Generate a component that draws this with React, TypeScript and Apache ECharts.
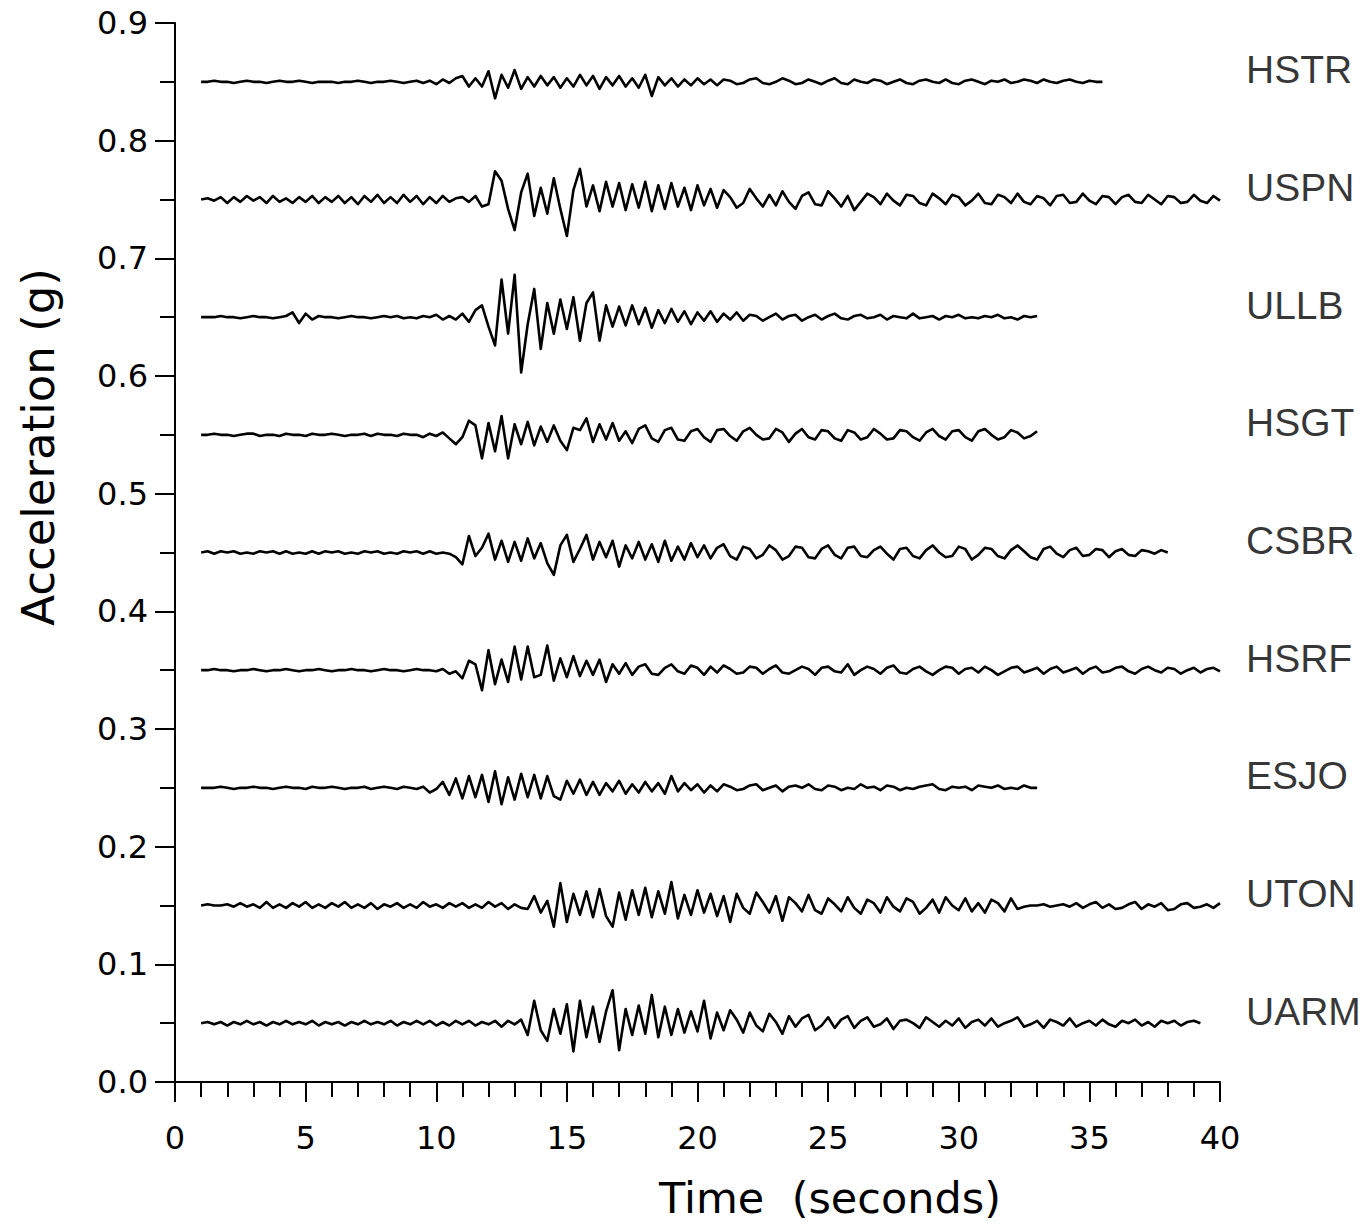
import React, { useEffect, useRef } from "react";
import * as echarts from "echarts";

// Station names, top to bottom, and the baseline (g) each trace is drawn on
const STATIONS = ["HSTR", "USPN", "ULLB", "HSGT", "CSBR", "HSRF", "ESJO", "UTON", "UARM"];
const BASELINES = [0.85, 0.75, 0.65, 0.55, 0.45, 0.35, 0.25, 0.15, 0.05];

// Every trace starts at t = 1 s and is sampled every 0.25 s
const T_START = 1;
const T_STEP = 0.25;

// Tick labels
const X_TICKS = [0, 5, 10, 15, 20, 25, 30, 35, 40];
const Y_TICKS = [0.0, 0.1, 0.2, 0.3, 0.4, 0.5, 0.6, 0.7, 0.8, 0.9];

// Trace deviations from their baseline, in 0.001 g
const HSTR = [
  0, 0, 1, 0, 0, -1, 0, 1, 0, 0, -1, 0, 1, 0, 0, 1, 0, -1, 0, 0,
  0, -1, 0, 0, 1, 0, -1, 0, 0, 1, 0, -1, 0, 1, -1, 1, -2, 2, -1, 3,
  5, -4, 3, -4, 9, -14, 6, -5, 10, -6, 4, -4, 5, -3, 4, -5, 3, -4, 6, -3,
  5, -6, 4, -3, 5, -4, 3, -5, 6, -12, 4, -3, 3, -4, 2, -3, 3, -2, 2, -3,
  2, 1, -2, -1, 2, 3, -1, -2, 0, 3, 1, -2, -1, 2, 0, -2, 1, 3, -1, -2,
  2, 0, -1, 2, 1, -2, 0, 2, -1, -2, 1, 2, 0, -1, 2, -1, -2, 1, 2, 0,
  -2, 1, 0, 2, -1, 0, 2, 1, -1, 2, 0, -1, 1, 2, 0, -1, 1, 0, 0,
];
const USPN = [
  0, 1, -1, 2, -3, 2, -2, 3, -1, 2, -3, 3, -2, 1, -3, 2, -2, 3, -3, 2,
  -2, 3, -3, 2, -4, 3, -2, 4, -3, 2, -3, 4, -2, 3, -4, 2, -3, 3, -2, 1,
  2, -2, 3, -6, -4, 24, 16, -8, -26, 6, 22, -14, 10, -12, 18, -8, -31, 8, 26, -6,
  12, -10, 15, -6, 14, -9, 13, -7, 15, -10, 12, -8, 14, -6, 10, -9, 12, -5, 9, -7,
  8, 2, -7, -3, 9, 1, -6, 4, -5, 7, -2, -8, 3, 6, -4, -5, 7, 1, -6, 3,
  -9, -2, 5, 2, -4, 5, -1, -5, 4, 3, -3, -5, 5, 1, -4, 4, 2, -5, -1, 5,
  -3, -4, 4, 2, -3, 5, -2, -4, 3, 1, -5, 3, 4, -3, -2, 5, -1, -4, 3, 2,
  -4, 2, 4, -2, -3, 4, 0, -4, 3, 2, -3, -2, 4, -1, -3, 3, -1,
];
const ULLB = [
  0, 0, 0, 1, 0, 0, -1, 0, 1, 0, 0, -1, 0, 1, 4, -5, 3, -2, 1, 0,
  0, -1, 0, 1, 0, 0, -1, 0, 1, 0, 1, -1, 0, -1, 1, 0, 2, -2, 1, -2,
  3, -4, 6, 10, -8, -24, 32, -14, 36, -47, -6, 24, -27, 12, -14, 15, -10, 17, -20, 12,
  21, -20, 10, -8, 9, -7, 10, -6, 8, -9, 6, -5, 7, -4, 5, -6, 4, -3, 5, -4,
  3, -2, 4, -3, 2, 1, -3, 0, 3, -2, 1, 2, -3, 0, 2, -2, 1, 3, -1, -2,
  1, 2, -1, 0, 2, -2, 1, 0, -1, 3, -1, 0, 1, -2, 1, 0, 2, -1, 0, -1,
  1, 0, 2, -1, 0, -2, 1, 0, 1,
];
const HSGT = [
  0, 0, 1, 0, 0, -1, 0, 1, 1, -1, 0, 0, -1, 1, 0, 0, -1, 1, 0, 0,
  1, 0, -1, 0, 0, 1, -1, 1, 0, 0, -1, 1, 0, 0, -2, 1, -1, 2, -3, -8,
  -2, 12, 8, -20, 10, -14, 16, -20, 9, -8, 11, -9, 7, -6, 8, -5, -13, 6, 4, 14,
  -6, 9, -4, 10, -5, 3, -7, 5, 8, -3, -6, 4, 6, -4, -5, 3, 5, -2, -6, 4,
  5, -1, -5, 3, 6, 0, -4, -3, 5, 2, -6, 1, 5, -2, -4, 4, 3, -3, -5, 4,
  2, -4, -2, 5, 1, -4, -3, 4, 3, -2, -5, 2, 5, -1, -4, 3, 4, -2, -5, 3,
  5, 0, -4, -2, 4, 2, -3, -1, 3,
];
const CSBR = [
  0, 1, -1, 1, 0, 1, -1, 0, -1, 1, 0, 1, -1, 1, -1, 0, -1, 1, -1, 1,
  0, 1, -1, 0, -1, 1, 0, 1, -1, 0, -1, 1, 0, 1, -1, 1, -1, 0, -1, -4,
  -10, 14, -3, 4, 16, -6, 10, -8, 9, -7, 12, -5, 8, -9, -19, 6, 15, -8, 3, 15,
  -6, 9, -4, 10, -12, 6, -5, 9, -6, 7, -8, 10, -7, 5, -6, 8, -4, 6, -5, 4,
  7, -3, -6, 5, 3, -5, -2, 6, 2, -6, -3, 5, 4, -4, -5, 3, 6, -2, -5, 4,
  5, -3, -4, 2, 5, -1, -6, 3, 4, -3, -5, 2, 6, 0, -4, -3, 5, 3, -6, -2,
  4, 3, -3, -5, 2, 6, 1, -4, -6, 3, 5, -1, -4, 2, 4, -3, -2, 3, 2, -4,
  1, 3, -2, -3, 2, 1, -1, 2, 0,
];
const HSRF = [
  0, 0, 1, 0, 0, -1, 0, 0, 1, 0, -1, 0, 0, 1, 0, -1, 0, 0, 1, 0,
  -1, 0, 0, 1, 0, 0, -1, 0, 1, 0, 0, -1, 0, 1, 0, 0, -1, 1, -3, -1,
  -7, 8, 5, -17, 17, -12, 9, -10, 20, -8, 20, -6, -4, 21, -9, 10, -6, 12, -5, 8,
  -4, 9, -10, 5, -3, 6, -4, 3, 5, -3, -4, 2, 5, -1, -3, 4, 2, -4, 3, -2,
  4, 1, -3, -2, 3, 2, -3, 1, 4, -2, -3, 0, 3, 1, -4, 2, 3, -1, -2, 5,
  -4, 0, 3, 1, -3, 2, 4, -2, -3, 1, 3, -1, -4, 0, 3, 2, -3, 1, 2, -2,
  3, 0, -4, -1, 2, 3, -2, 0, 2, -3, 1, 3, -2, 0, 2, -3, 1, 3, -2, -1,
  2, 3, -1, -3, 1, 3, 0, -2, 2, 1, -3, 0, 2, -2, 1, 2, -1,
];
const ESJO = [
  0, 0, 0, 1, 0, -1, 0, 0, 1, 0, 0, -1, 0, 1, 0, 0, -1, 1, 0, 0,
  1, 0, -1, 0, 0, 1, -1, 0, 1, 0, -1, 1, 0, -1, 1, -4, -1, 5, -6, 8,
  -9, 10, -8, 11, -12, 14, -14, 9, -10, 12, -8, 11, -9, 10, -7, -10, 6, -5, 7, -6,
  5, -6, 4, -3, 6, -5, 3, -4, 5, -3, 4, -5, 10, -3, 4, -2, 3, -4, 2, -3,
  3, 1, -2, -1, 2, 3, -2, 0, 2, -3, 1, 2, 0, 3, -1, -2, 2, 1, -2, 0,
  -1, 3, 0, 1, -2, 2, 1, -2, 0, -1, 1, 2, 3, -1, -2, 1, 0, 1, -2, 2,
  1, 0, 2, -1, 0, -1, 2, 0, 0,
];
const UTON = [
  0, 1, 0, 0, 1, -1, 2, -1, 1, -2, 3, -2, 1, -2, 2, -1, 3, -2, 1, -2,
  2, -1, 3, -2, 1, -2, 2, -3, 1, -1, 2, -2, 1, -2, 3, -1, 1, -2, 2, -1,
  2, -2, 1, -2, 3, -1, 2, -3, 1, -2, -3, 8, -6, 4, -18, 19, -14, 10, -8, 12,
  -10, 14, -9, -18, 11, -12, 13, -8, 15, -10, 12, -7, 20, -11, 9, -8, 13, -6, 10, -9,
  8, -14, 10, -2, -7, 11, 3, -6, 8, -13, 7, 2, -5, 9, -4, -7, 6, 1, -5, 7,
  -2, -7, 5, 2, -6, 7, -1, -5, 6, 3, -7, -2, 5, -6, 7, 0, -4, 6, -5, 2,
  -6, 5, 2, -5, 6, -3, -1, 0, 0, 1, -1, 0, 1, -1, 2, -2, 1, 3, -2, 1,
  -3, -2, 1, 3, -3, 1, -1, 2, -4, -3, 1, 2, -2, -1, 1, -2, 2,
];
const UARM = [
  0, 1, -1, 1, -2, 1, -1, 2, -1, 1, -2, 1, -1, 2, -1, 1, -1, 2, -2, 1,
  -1, 1, -2, 1, -1, 2, -1, 1, -1, 2, -2, 1, -1, 2, -1, 2, -2, 1, -2, 2,
  -1, 2, -2, 1, -1, 2, -3, 2, -1, 3, -10, 19, -6, -15, 12, -9, 16, -24, 19, -12,
  14, -16, 10, 28, -23, 12, -10, 15, -9, 24, -12, 14, -10, 12, -8, 10, -7, 19, -13, 9,
  -6, 11, 3, -8, 9, -2, -7, 8, 1, -9, 6, -3, 4, 7, -6, -2, 5, -4, 3, 6,
  -4, 2, 5, -3, -1, 4, -5, 2, 3, 0, -4, 5, 1, -3, 2, -2, 4, -4, 1, 3,
  -2, 4, -3, 0, 2, 5, -3, -1, 2, -4, 3, 1, -2, 4, -3, 0, 2, -2, 3, -1,
  -3, 2, 0, 3, -2, 1, -3, 2, 0, 2, -2, 1, 2, 0,
];

const TRACES = [HSTR, USPN, ULLB, HSGT, CSBR, HSRF, ESJO, UTON, UARM];

const TICK_FONT = "'DejaVu Sans', sans-serif";

export default function App() {
  const ref = useRef<HTMLDivElement>(null);

  useEffect(() => {
    document.body.style.margin = "0";
    if (!ref.current) return;
    const chart = echarts.init(ref.current, undefined, { renderer: "svg" });

    const lineSeries = TRACES.map((vals, k) => ({
      type: "line",
      name: STATIONS[k],
      showSymbol: false,
      silent: true,
      clip: false,
      lineStyle: { color: "#000", width: 2.6, join: "round" },
      data: vals.map((v, i) => [T_START + i * T_STEP, BASELINES[k] + v / 1000]),
    }));

    const labelSeries = {
      type: "scatter",
      symbolSize: 0,
      silent: true,
      clip: false,
      data: STATIONS.map((s, k) => ({ name: s, value: [X_TICKS[X_TICKS.length - 1], BASELINES[k]] })),
      label: {
        show: true,
        formatter: "{b}",
        position: "right",
        distance: 26,
        offset: [0, -12],
        fontSize: 39,
        fontFamily: "'Liberation Sans', Arial, sans-serif",
        color: "#000",
      },
    };

    chart.setOption({
      animation: false,
      backgroundColor: "#fff",
      grid: { left: 175, right: 149, top: 23, bottom: 144 },
      xAxis: {
        type: "value",
        min: X_TICKS[0],
        max: X_TICKS[X_TICKS.length - 1],
        interval: 5,
        axisLine: { show: true, onZero: false, lineStyle: { color: "#000", width: 2 } },
        axisTick: { show: true, length: 20, lineStyle: { color: "#000", width: 2 } },
        minorTick: { show: true, splitNumber: 5, length: 15, lineStyle: { color: "#000", width: 2 } },
        splitLine: { show: false },
        minorSplitLine: { show: false },
        axisLabel: { fontSize: 32, fontFamily: TICK_FONT, color: "#000", margin: 40 },
      },
      yAxis: {
        type: "value",
        min: Y_TICKS[0],
        max: Y_TICKS[Y_TICKS.length - 1],
        interval: 0.1,
        axisLine: { show: true, onZero: false, lineStyle: { color: "#000", width: 2 } },
        axisTick: { show: true, length: 20, lineStyle: { color: "#000", width: 2 } },
        minorTick: { show: true, splitNumber: 2, length: 15, lineStyle: { color: "#000", width: 2 } },
        splitLine: { show: false },
        minorSplitLine: { show: false },
        axisLabel: {
          fontSize: 32,
          fontFamily: TICK_FONT,
          color: "#000",
          margin: 27,
          formatter: (v: number) => v.toFixed(1),
        },
      },
      graphic: [
        {
          type: "text",
          x: 830,
          y: 1198,
          style: {
            text: "Time  (seconds)",
            fontSize: 43,
            fontFamily: TICK_FONT,
            fill: "#000",
            textAlign: "center",
            textVerticalAlign: "middle",
          },
        },
        {
          type: "text",
          x: 38,
          y: 447,
          rotation: Math.PI / 2,
          style: {
            text: "Acceleration (g)",
            fontSize: 45,
            fontFamily: TICK_FONT,
            fill: "#000",
            textAlign: "center",
            textVerticalAlign: "middle",
          },
        },
      ],
      series: [...lineSeries, labelSeries],
    });

    return () => chart.dispose();
  }, []);

  return <div ref={ref} style={{ width: 1369, height: 1226 }} />;
}
